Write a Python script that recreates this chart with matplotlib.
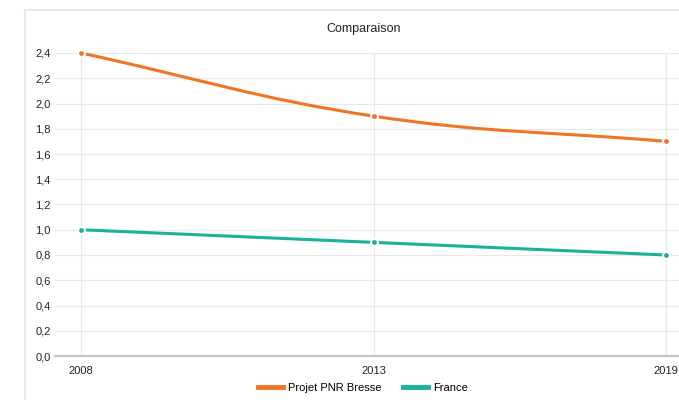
import numpy as np
import matplotlib
matplotlib.use("Agg")
import matplotlib.pyplot as plt
from matplotlib.path import Path
from matplotlib.patches import PathPatch
from matplotlib.lines import Line2D
from matplotlib.ticker import FuncFormatter, MultipleLocator

# données
years = ["2008", "2013", "2019"]
pnr_bresse = [2.4, 1.9, 1.7]
france = [1.0, 0.9, 0.8]
series_names = ["Projet PNR Bresse", "France"]
colors = ["#f07522", "#1ab399"]

plt.rcParams['font.family'] = ['Liberation Sans', 'DejaVu Sans']

W, H = 679, 400
fig = plt.figure(figsize=(W / 100, H / 100), dpi=100)

# position de la zone de tracé (pixels)
left_px, right_px, top_px, bottom_px = 55, 679, 53, 356
x0_px, x2_px = 81, 666
step = (x2_px - x0_px) / 2.0
ax = fig.add_axes([left_px / W, 1 - bottom_px / H,
                   (right_px - left_px) / W, (bottom_px - top_px) / H])

xs = np.arange(len(years))
ax.set_xlim(-(x0_px - left_px) / step, 2 + (right_px - x2_px) / step)
ax.set_ylim(0, 2.4)


def spline_path(x, y, sx, sy, t=0.4):
    # courbe de Bézier comme Chart.js (tension 0.4), calculée en pixels
    px = np.array(x, float) * sx
    py = np.array(y, float) * sy
    n = len(px)
    cps = []
    for i in range(n):
        pi_ = max(i - 1, 0)
        ni = min(i + 1, n - 1)
        d01 = np.hypot(px[i] - px[pi_], py[i] - py[pi_])
        d12 = np.hypot(px[ni] - px[i], py[ni] - py[i])
        tot = d01 + d12
        s01 = d01 / tot if tot else 0
        s12 = d12 / tot if tot else 0
        fa, fb = t * s01, t * s12
        dx, dy = px[ni] - px[pi_], py[ni] - py[pi_]
        cps.append(((px[i] - fa * dx, py[i] - fa * dy),
                    (px[i] + fb * dx, py[i] + fb * dy)))
    verts = [(px[0] / sx, py[0] / sy)]
    codes = [Path.MOVETO]
    for i in range(n - 1):
        a = cps[i][1]
        b = cps[i + 1][0]
        verts += [(a[0] / sx, a[1] / sy), (b[0] / sx, b[1] / sy),
                  (px[i + 1] / sx, py[i + 1] / sy)]
        codes += [Path.CURVE4] * 3
    return Path(verts, codes)


sy = (bottom_px - top_px) / 2.4
for vals, name, c in zip([pnr_bresse, france], series_names, colors):
    path = spline_path(xs, vals, step, sy)
    ax.add_patch(PathPatch(path, facecolor="none", edgecolor=c, lw=2.2,
                           capstyle="butt", zorder=3, clip_on=False))
    ax.plot(xs, vals, "o", color=c, ms=5, mec="white", mew=1.5,
            zorder=4, clip_on=False)
    ax.plot([], [], color=c, lw=3.5, label=name)

# grilles
ax.set_xticks(xs)
ax.set_xticklabels(years)
ax.yaxis.set_major_locator(MultipleLocator(0.2))
ax.yaxis.set_major_formatter(FuncFormatter(lambda v, p: f"{v:.1f}".replace(".", ",")))
ax.grid(True, color="#e8e8e8", lw=0.8)
ax.set_axisbelow(True)
for s in ax.spines.values():
    s.set_visible(False)
ax.tick_params(length=0, labelsize=8, colors="#222222")
ax.tick_params(axis="x", pad=7)
ax.tick_params(axis="y", pad=3)
ax.plot([0, 1], [0, 0], transform=ax.get_yaxis_transform(), color="#c4c4c4",
        lw=1.6, zorder=2, clip_on=False)

fig.text(364 / W, 1 - 29 / H, "Comparaison", ha="center", va="center",
         fontsize=9, color="#222222")

leg = fig.legend(loc="center", bbox_to_anchor=(363 / W, 1 - 388 / H), ncol=2,
                 frameon=False, fontsize=8, handlelength=2.3, columnspacing=1.9,
                 handletextpad=0.45)

# cadre du conteneur
fig.add_artist(Line2D([25 / W, 25 / W], [0, 1 - 10 / H], color="#ececec", lw=1.5))
fig.add_artist(Line2D([25 / W, 1], [1 - 10 / H, 1 - 10 / H], color="#ececec", lw=1.5))

fig.savefig("out.png", dpi=100)
